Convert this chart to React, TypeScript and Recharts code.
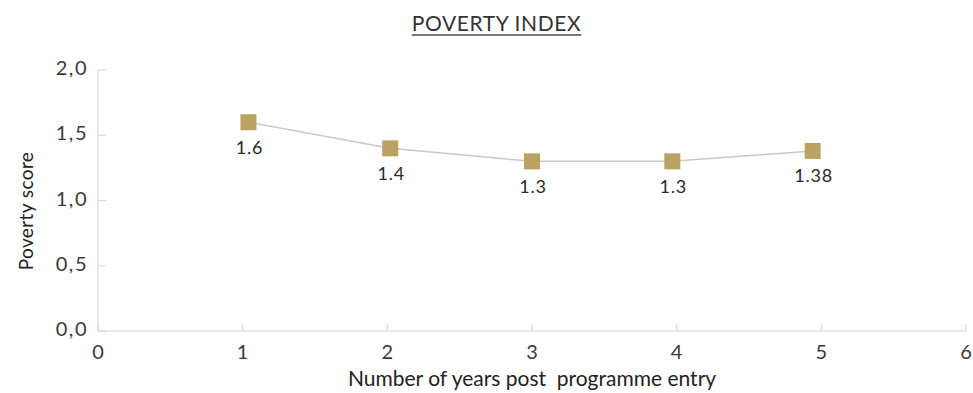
import React from "react";
import { LineChart, Line, XAxis, YAxis, LabelList, Label } from "recharts";

// years post entry (markers sit slightly off the integer ticks in the source)
const years = [1.04, 2.02, 3.0, 3.97, 4.94];
const scores = [1.6, 1.4, 1.3, 1.3, 1.38];
const scoreLabels = ["1.6", "1.4", "1.3", "1.3", "1.38"];
const xTicks = [0, 1, 2, 3, 4, 5, 6];
const yTicks = [0, 0.5, 1, 1.5, 2];

const data = years.map((y, i) => ({ year: y, score: scores[i], label: scoreLabels[i] }));

const font = "'Lato', 'DejaVu Sans', sans-serif";
const axisColor = "#d4d4d4";
const tickColor = "#3a3a3a";
const gold = "#b9a262";

const fmtComma = (v: number) => v.toFixed(1).replace(".", ",");

const XTick = (props: any) => {
  const { x, y, payload } = props;
  return (
    <g>
      <line x1={x} x2={x} y1={y} y2={y - 7} stroke={axisColor} strokeWidth={1} />
      <text x={x} y={y + 23} textAnchor="middle" dominantBaseline="middle" fill={tickColor} fontSize={20} fontFamily={font}>
        {payload.value}
      </text>
    </g>
  );
};

const YTick = (props: any) => {
  const { x, y, payload } = props;
  return (
    <g>
      <line x1={x + 10} x2={x + 18} y1={y} y2={y} stroke={axisColor} strokeWidth={1} />
      <text x={x} y={y} textAnchor="end" dominantBaseline="middle" fill={tickColor} fontSize={20} fontFamily={font} letterSpacing={1.5}>
        {fmtComma(payload.value)}
      </text>
    </g>
  );
};

const Square = (props: any) => {
  const { cx, cy } = props;
  if (cx == null || cy == null) return null;
  return <rect x={cx - 8} y={cy - 8} width={16} height={16} fill={gold} />;
};

const ValueLabel = (props: any) => {
  const { x, y, value } = props;
  return (
    <text x={x + 1} y={y + 27} textAnchor="middle" dominantBaseline="middle" fill="#2a2a2a" fontSize={18} fontFamily={font} letterSpacing={0.8}>
      {value}
    </text>
  );
};

export default function App() {
  return (
    <div style={{ position: "absolute", left: 0, top: 0, width: 973, height: 393, background: "#fff" }}>
      <div
        style={{
          position: "absolute",
          left: 0,
          width: 993,
          top: 10,
          textAlign: "center",
          fontFamily: font,
          fontSize: 21,
          color: "#333",
          textDecoration: "underline",
          textDecorationColor: "#777",
          textUnderlineOffset: 3,
          letterSpacing: 0.6,
        }}
      >
        POVERTY INDEX
      </div>
      <LineChart width={973} height={393} data={data} margin={{ top: 70, right: 7, bottom: 0, left: 0 }}>
        <XAxis
          dataKey="year"
          type="number"
          domain={[0, 6]}
          ticks={xTicks}
          interval={0}
          height={62}
          stroke={axisColor}
          tickLine={false}
          tickSize={0}
          tickMargin={0}
          tick={<XTick />}
        >
          <Label
            content={(p: any) => {
              const vb = p.viewBox;
              return (
                <text x={vb.x + vb.width / 2} y={vb.y + 50} textAnchor="middle" dominantBaseline="middle" fill="#222" fontSize={21} fontFamily={font} style={{ whiteSpace: "pre" }}>
                  {"Number of years post\u00a0 programme entry"}
                </text>
              );
            }}
          />
        </XAxis>
        <YAxis
          type="number"
          domain={[0, 2]}
          ticks={yTicks}
          interval={0}
          width={98}
          stroke={axisColor}
          tickLine={false}
          tickSize={0}
          tickMargin={10}
          tick={<YTick />}
        >
          <Label
            content={() => (
              <text x={28} y={211} transform="rotate(-90 28 211)" textAnchor="middle" dominantBaseline="middle" fill="#222" fontSize={19} fontFamily={font} letterSpacing={0.4}>
                Poverty score
              </text>
            )}
          />
        </YAxis>
        <Line
          dataKey="score"
          type="linear"
          stroke="#c9c9c9"
          strokeWidth={1.5}
          dot={<Square />}
          activeDot={false}
          isAnimationActive={false}
        >
          <LabelList dataKey="label" content={<ValueLabel />} />
        </Line>
      </LineChart>
    </div>
  );
}
